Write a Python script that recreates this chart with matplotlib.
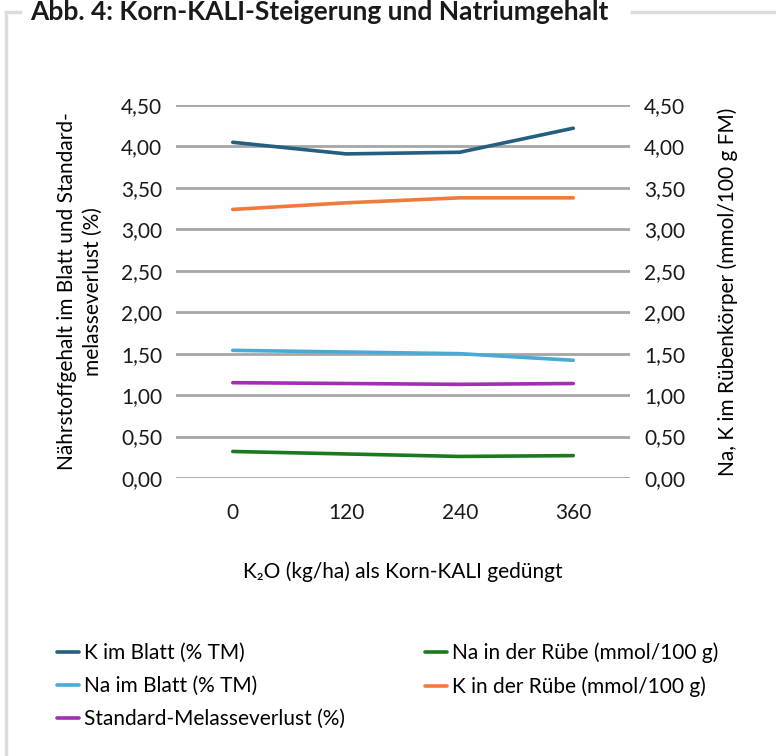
import matplotlib.pyplot as plt
from matplotlib.lines import Line2D
from matplotlib.ticker import FuncFormatter
import numpy as np

plt.rcParams['font.family'] = ['Lato', 'DejaVu Sans']

doses = ["0", "120", "240", "360"]
k_blatt = [4.05, 3.91, 3.93, 4.22]
na_blatt = [1.54, 1.52, 1.50, 1.42]
melasse = [1.15, 1.14, 1.13, 1.14]
na_ruebe = [0.32, 0.29, 0.26, 0.27]
k_ruebe = [3.24, 3.32, 3.38, 3.38]

fig = plt.figure(figsize=(7.76, 7.56), dpi=100)
ax = fig.add_axes([176 / 776, 1 - 478 / 756, 454 / 776, 373 / 756])
ax2 = ax.twinx()

x = np.arange(len(doses))
lw = 2.6
l1, = ax.plot(x, k_blatt, color='#245f80', lw=lw, label='K im Blatt (% TM)', solid_capstyle='round')
l2, = ax.plot(x, na_blatt, color='#4aa9d7', lw=lw, label='Na im Blatt (% TM)', solid_capstyle='round')
l3, = ax.plot(x, melasse, color='#a22eb3', lw=lw, label='Standard-Melasseverlust (%)', solid_capstyle='round')
l4, = ax2.plot(x, na_ruebe, color='#1b7a1e', lw=lw, label='Na in der Rübe (mmol/100 g)', solid_capstyle='round')
l5, = ax2.plot(x, k_ruebe, color='#f07a3b', lw=lw, label='K in der Rübe (mmol/100 g)', solid_capstyle='round')

fs = 15
fmt = FuncFormatter(lambda v, p: f"{v:.2f}".replace('.', ','))
for a in (ax, ax2):
    a.set_ylim(0, 4.5)
    a.set_yticks(np.arange(0, 4.51, 0.5))
    a.yaxis.set_major_formatter(fmt)
    for s in a.spines.values():
        s.set_visible(False)
    a.tick_params(length=0, labelsize=fs, colors='#1a1a1a')
ax.tick_params(axis='y', pad=10)
ax2.tick_params(axis='y', pad=10)
ax.set_xlim(-0.5, 3.5)
ax.set_xticks(x)
ax.set_xticklabels(doses)
ax.tick_params(axis='x', pad=18)
ax.grid(axis='y', color='#a6a6a6', lw=2)
ax.set_axisbelow(True)
for ln in (l1, l2, l3):
    ln.set_zorder(3)

ax.set_xlabel('K₂O (kg/ha) als Korn-KALI gedüngt', fontsize=fs, labelpad=28)
ax.set_ylabel('Nährstoffgehalt im Blatt und Standard-\nmelasseverlust (%)', fontsize=fs,
              labelpad=13, linespacing=1.35)
ax2.set_ylabel('Na, K im Rübenkörper (mmol/100 g FM)', fontsize=fs, labelpad=23)

fig.text(30 / 776, 1 - 12 / 756, 'Abb. 4: Korn-KALI-Steigerung und Natriumgehalt',
         fontsize=19, fontweight='bold', va='center', ha='left', color='#1a1a1a')

frame = '#dcdcdc'
fig.add_artist(Line2D([6 / 776, 6 / 776], [0, 1 - 12 / 756], color=frame, lw=2.5))
fig.add_artist(Line2D([6 / 776, 20 / 776], [1 - 12 / 756, 1 - 12 / 756], color=frame, lw=2.5))
fig.add_artist(Line2D([632 / 776, 1], [1 - 12 / 756, 1 - 12 / 756], color=frame, lw=2.5))

fig.legend(handles=[l1, l2, l3, l4, l5], ncol=2, loc='upper left',
           bbox_to_anchor=(38 / 776, 1 - 624 / 756), frameon=False, fontsize=fs,
           handlelength=1.05, handletextpad=0.25, columnspacing=3.85, labelspacing=0.62)

fig.savefig('out.png', dpi=100)
